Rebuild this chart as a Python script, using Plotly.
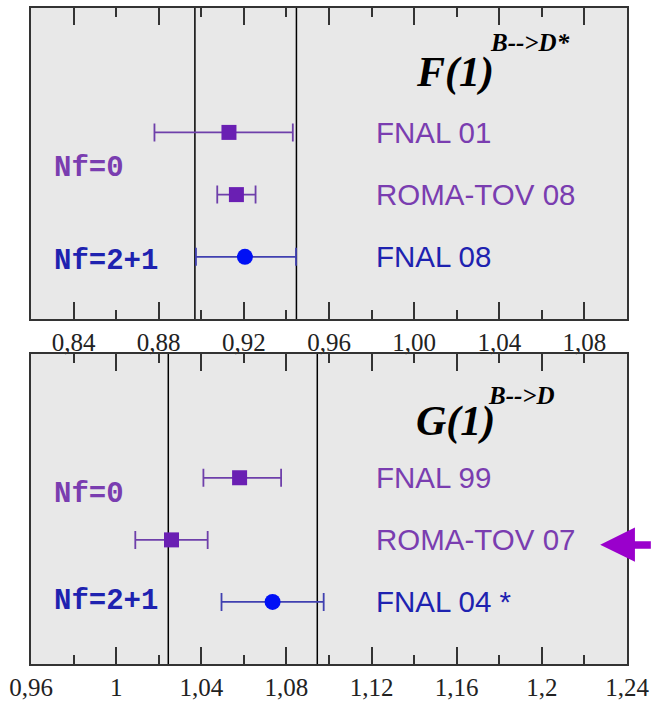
import plotly.graph_objects as go

# ---------------- data ----------------
# Top panel: F(1) for B -> D*
f_labels = ["FNAL 01", "ROMA-TOV 08", "FNAL 08"]
f_values = [0.913, 0.9165, 0.9205]
f_err_plus = [0.030, 0.009, 0.024]
f_err_minus = [0.035, 0.009, 0.023]
f_rows = [3, 2, 1]
f_band = [0.897, 0.9447]
f_tickvals = [0.84, 0.88, 0.92, 0.96, 1.00, 1.04, 1.08]
f_ticktext = ["0,84", "0,88", "0,92", "0,96", "1,00", "1,04", "1,08"]

# Bottom panel: G(1) for B -> D
g_labels = ["FNAL 99", "ROMA-TOV 07", "FNAL 04 *"]
g_values = [1.058, 1.026, 1.0735]
g_err_plus = [0.0195, 0.017, 0.024]
g_err_minus = [0.017, 0.017, 0.024]
g_rows = [3, 2, 1]
g_band = [1.0245, 1.0945]
g_tickvals = [0.96, 1.00, 1.04, 1.08, 1.12, 1.16, 1.20, 1.24]
g_ticktext = ["0,96", "1", "1,04", "1,08", "1,12", "1,16", "1,2", "1,24"]

# group membership: first two points quenched (Nf=0), last one Nf=2+1
nf0_idx = [0, 1]
nf21_idx = [2]

PURPLE_MK = "#6A1FB3"
PURPLE_ERR = "#6E3FAA"
PURPLE_TXT = "#7A3DB0"
BLUE_MK = "#0010F5"
BLUE_ERR = "#4040B0"
BLUE_TXT = "#1E22B0"
FRAME = "#333333"

fig = go.Figure()


def add_panel(values, ep, em, rows, xa, ya):
    for idx, sym, mc, ec, sz in [(nf0_idx, "square", PURPLE_MK, PURPLE_ERR, 15),
                                  (nf21_idx, "circle", BLUE_MK, BLUE_ERR, 16)]:
        fig.add_trace(go.Scatter(
            x=[values[i] for i in idx], y=[rows[i] for i in idx],
            mode="markers", xaxis=xa, yaxis=ya, showlegend=False,
            marker=dict(symbol=sym, size=sz, color=mc, line=dict(width=0)),
            error_x=dict(type="data", symmetric=False,
                         array=[ep[i] for i in idx], arrayminus=[em[i] for i in idx],
                         color=ec, thickness=1.8, width=9),
        ))


add_panel(f_values, f_err_plus, f_err_minus, f_rows, "x", "y")
add_panel(g_values, g_err_plus, g_err_minus, g_rows, "x2", "y2")

for b in f_band:
    fig.add_shape(type="line", xref="x", yref="y domain", x0=b, x1=b, y0=0, y1=1,
                  line=dict(color="black", width=1.5), layer="below")
for b in g_band:
    fig.add_shape(type="line", xref="x2", yref="y2 domain", x0=b, x1=b, y0=0, y1=1,
                  line=dict(color="black", width=1.5), layer="below")

ann = []
label_colors = [PURPLE_TXT, PURPLE_TXT, BLUE_TXT]
LBL = dict(family="Liberation Sans, Arial", size=29.5)
for lab, r, c in zip(f_labels, f_rows, label_colors):
    ann.append(dict(xref="x domain", yref="y", x=0.5757, y=r, text=lab, showarrow=False,
                    xanchor="left", yanchor="middle", font=dict(color=c, **LBL)))
for lab, r, c in zip(g_labels, g_rows, label_colors):
    ann.append(dict(xref="x2 domain", yref="y2", x=0.5757, y=r, text=lab, showarrow=False,
                    xanchor="left", yanchor="middle", font=dict(color=c, **LBL)))

# Nf group labels
for xa, ya, y0, y1 in [("x domain", "y", 2.42, 0.92), ("x2 domain", "y2", 2.73, 1.01)]:
    ann.append(dict(xref=xa, yref=ya, x=0.036, y=y0, text="<b>Nf=0</b>", showarrow=False,
                    xanchor="left", yanchor="middle",
                    font=dict(family="Liberation Mono, Courier New", size=29, color=PURPLE_TXT)))
    ann.append(dict(xref=xa, yref=ya, x=0.036, y=y1, text="<b>Nf=2+1</b>", showarrow=False,
                    xanchor="left", yanchor="middle",
                    font=dict(family="Liberation Mono, Courier New", size=29, color=BLUE_TXT)))

# titles
TF = "Liberation Serif, Times New Roman"
ann.append(dict(xref="x domain", yref="y", x=0.642, y=3.97, text="<b><i>F(1)</i></b>",
                showarrow=False, xanchor="left", yanchor="middle",
                font=dict(family=TF, size=42, color="black")))
ann.append(dict(xref="x domain", yref="y", x=0.766, y=4.45, text="<b><i>B-->D*</i></b>",
                showarrow=False, xanchor="left", yanchor="middle",
                font=dict(family=TF, size=25, color="black")))
ann.append(dict(xref="x2 domain", yref="y2", x=0.642, y=3.9, text="<b><i>G(1)</i></b>",
                showarrow=False, xanchor="left", yanchor="middle",
                font=dict(family=TF, size=42, color="black")))
ann.append(dict(xref="x2 domain", yref="y2", x=0.764, y=4.32, text="<b><i>B-->D</i></b>",
                showarrow=False, xanchor="left", yanchor="middle",
                font=dict(family=TF, size=25, color="black")))

# purple pointer arrow (decoration, paper coordinates)
fig.add_shape(type="path", xref="paper", yref="paper", layer="above",
              path="M 0.955 0.1816 L 1.0133 0.2081 L 1.0133 0.1871 L 1.04 0.1871 "
                   "L 1.04 0.1756 L 1.0133 0.1756 L 1.0133 0.1557 Z",
              fillcolor="#9A00CC", line=dict(width=0))

xcommon = dict(showline=True, linecolor=FRAME, linewidth=2, mirror="ticks",
               ticks="inside", ticklen=17, tickwidth=1.5, tickcolor=FRAME,
               showgrid=False, zeroline=False,
               tickfont=dict(family=TF, size=25, color="#222222"),
               minor=dict(ticks="inside", ticklen=9, tickwidth=1.5, tickcolor=FRAME,
                          dtick=0.02, tick0=0, showgrid=False))
ycommon = dict(showline=True, linecolor=FRAME, linewidth=2, mirror=True,
               showticklabels=False, ticks="", showgrid=False, zeroline=False,
               range=[0, 5], fixedrange=True)

fig.update_layout(
    width=655, height=707,
    margin=dict(l=31, r=23, t=6, b=33),
    paper_bgcolor="white", plot_bgcolor="#E8E8E8",
    xaxis=dict(range=[0.82, 1.10], tickvals=f_tickvals, ticktext=f_ticktext,
               anchor="y", **xcommon),
    yaxis=dict(domain=[0.5259, 1.0], anchor="x", **ycommon),
    xaxis2=dict(range=[0.96, 1.24], tickvals=g_tickvals, ticktext=g_ticktext,
                anchor="y2", **xcommon),
    yaxis2=dict(domain=[0.0, 0.473], anchor="x2", **ycommon),
    annotations=ann,
    showlegend=False,
)

fig.write_html("out.html", config={"displayModeBar": False},
               post_script="document.body.style.margin='0';")
